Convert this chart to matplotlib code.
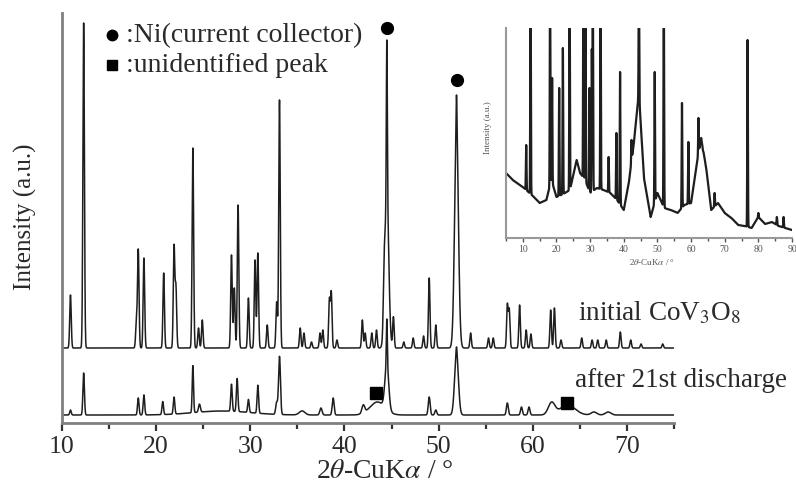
import numpy as np
import matplotlib
matplotlib.use("Agg")
import matplotlib.pyplot as plt
from matplotlib.ticker import MultipleLocator

plt.rcParams['font.family'] = ['Liberation Serif', 'DejaVu Serif']
plt.rcParams['mathtext.fontset'] = 'stix'

# ---------------- data ----------------
# initial CoV3O8 pattern: peak positions (2theta), heights above baseline, widths
init_pos = [10.9, 12.3, 17.9, 18.1, 18.7, 20.8, 21.9, 22.1, 23.9, 24.5, 24.9,
            28.0, 28.3, 28.7, 29.8, 30.5, 30.8, 31.8, 32.8, 33.1, 35.3, 35.7,
            36.5, 37.4, 37.7, 38.4, 38.6, 39.2, 41.9, 42.2, 42.9, 43.4, 44.2,
            44.5, 44.5, 45.2, 46.3, 47.3, 48.4, 49.0, 49.7, 51.9, 51.9, 53.4,
            55.3, 55.8, 57.3, 57.5, 58.6, 59.3, 59.8, 61.9, 62.3, 63.0, 65.2,
            66.3, 66.9, 67.8, 69.3, 70.4, 71.5, 73.8]
init_h = [53, 325, 25, 98, 90, 75, 101, 60, 200, 20, 28,
          93, 60, 143, 50, 88, 95, 23, 46, 248, 20, 15,
          6, 15, 18, 48, 55, 8, 28, 15, 15, 18, 40,
          156, 152, 31, 6, 10, 12, 70, 23, 221, 32, 15,
          10, 10, 43, 38, 43, 18, 14, 38, 40, 8, 10,
          8, 8, 8, 16, 8, 4, 4]
init_w = [0.08] * 33 + [0.2, 0.05] + [0.08] * 6 + [0.2, 0.05] + [0.08] * 19
init_offset = 75

# after 21st discharge pattern
after_pos = [10.9, 12.3, 18.1, 18.7, 20.7, 21.9, 23.9, 24.6, 28.0, 28.6, 29.8,
             30.8, 32.8, 33.1, 35.5, 37.5, 38.8, 42.0, 43.5, 44.5, 44.5, 49.0,
             49.7, 51.9, 51.9, 57.3, 58.8, 59.6, 62.0, 63.7, 66.5, 68.0, 27.0]
after_h = [5, 42, 17, 20, 13, 17, 47, 8, 27, 33, 13,
           28, 12, 58, 4, 7, 17, 8, 13, 45, 45, 18,
           5, 62, 6, 12, 8, 8, 12, 10, 3, 3, 4]
after_w = [0.08, 0.08, 0.08, 0.08, 0.08, 0.08, 0.07, 0.1, 0.08, 0.08, 0.08,
           0.08, 0.1, 0.1, 0.3, 0.12, 0.1, 0.15, 0.8, 0.2, 0.05, 0.1,
           0.1, 0.2, 0.05, 0.1, 0.1, 0.1, 0.35, 0.8, 0.3, 0.3, 3.0]
after_offset = 8

# inset (extended scan): background and peak tops
ins_bg_x = [5, 7, 10, 13, 15, 17, 18.5, 20, 22, 24, 26, 27, 28.5, 30, 32, 34, 36,
            38, 40, 41.5, 43, 44.5, 46, 48, 50, 52, 54, 56, 58, 60, 61.5, 63,
            64.5, 66, 68, 70, 72, 74, 76, 78, 80, 82, 84, 86, 88, 90]
ins_bg_y = [65, 58, 51, 42, 35, 38, 58, 41, 44, 48, 78, 65, 58, 45, 50, 48, 45,
            38, 28, 55, 95, 145, 60, 21, 45, 30, 28, 25, 33, 35, 70, 100,
            70, 28, 35, 25, 20, 13, 12, 10, 21, 14, 16, 12, 10, 8]
ins_pos = [11.0, 12.3, 18.1, 18.7, 20.8, 21.9, 23.9, 28.0, 28.6, 29.8, 30.5,
           30.8, 33.1, 35.5, 37.8, 38.9, 42.3, 44.5, 49.2, 51.9, 57.3, 59.2,
           62.2, 63.5, 67.0, 76.8, 80.0, 85.5, 87.5]
ins_top = [93, 260, 260, 160, 150, 190, 260, 260, 260, 150, 188,
           260, 260, 81, 105, 166, 98, 260, 166, 260, 135, 96,
           120, 88, 45, 198, 25, 21, 21]

main_ticks = [10, 20, 30, 40, 50, 60, 70]
inset_ticks = [10, 20, 30, 40, 50, 60, 70, 80, 90]

# ---------------- build profiles ----------------
def profile(x, pos, h, w):
    y = np.zeros_like(x)
    for p, a, s in zip(pos, h, w):
        y += a * np.exp(-0.5 * ((x - p) / s) ** 2)
    return y

x = np.arange(10.0, 75.0, 0.01)
y_init = init_offset + profile(x, init_pos, init_h, init_w)
y_after = after_offset + profile(x, after_pos, after_h, after_w)

xi = np.arange(5.0, 90.0, 0.02)
bg = np.interp(xi, ins_bg_x, ins_bg_y)
ins_h = [t - np.interp(p, ins_bg_x, ins_bg_y) for p, t in zip(ins_pos, ins_top)]
y_ins = bg + profile(xi, ins_pos, ins_h, [0.09] * len(ins_pos))

# ---------------- figure ----------------
W, H = 796, 486
fig = plt.figure(figsize=(W / 100, H / 100), dpi=100)
gray = '#808080'
ink = '#1e1e1e'
txt = '#2a2a2a'
FS = 19.5

ax = fig.add_axes([62 / W, (H - 423) / H, (674 - 62) / W, 410 / H])
ax.plot(x, y_init, color=ink, lw=1.1)
ax.plot(x, y_after, color=ink, lw=1.1)
ax.set_xlim(10, 75)
ax.set_ylim(0, 410)
for s in ['top', 'right']:
    ax.spines[s].set_visible(False)
for s in ['left', 'bottom']:
    ax.spines[s].set_color(gray)
    ax.spines[s].set_linewidth(2.0)
ax.set_yticks([])
ax.set_xticks(main_ticks)
ax.xaxis.set_minor_locator(MultipleLocator(5))
ax.tick_params(axis='x', which='major', direction='out', length=6, width=1.6,
               color='#333333', labelsize=18.5, labelcolor=txt, pad=3)
ax.tick_params(axis='x', which='minor', direction='out', length=4, width=1.6,
               color='#333333')

# markers
ax.plot([44.5], [395], 'o', color='black', ms=8.5)
ax.plot([51.9], [343], 'o', color='black', ms=8.5)
ax.plot([43.3], [30], 's', color='black', ms=8.5)
ax.plot([63.6], [20], 's', color='black', ms=8.5)

# legend-like annotations
ax.plot([0.082], [0.946], 'o', color='black', ms=7.5, transform=ax.transAxes, clip_on=False)
ax.plot([0.082], [0.873], 's', color='black', ms=7, transform=ax.transAxes, clip_on=False)
ax.text(0.105, 0.946, ':Ni(current collector)', transform=ax.transAxes,
        fontsize=FS + 0.5, color=txt, va='center', ha='left')
ax.text(0.105, 0.873, ':unidentified peak', transform=ax.transAxes,
        fontsize=FS + 0.5, color=txt, va='center', ha='left')

fig.text(578 / W, 1 - 313 / H, 'initial CoV$_3$O$_8$', fontsize=FS, color=txt,
         va='center', ha='left')
fig.text(575 / W, 1 - 380 / H, 'after 21st discharge', fontsize=FS, color=txt,
         va='center', ha='left')

fig.text(385 / W, 1 - 471 / H, '2$\\theta$-CuK$\\alpha$ / °', fontsize=20, color=txt,
         va='center', ha='center')
fig.text(25 / W, 1 - 217 / H, 'Intensity (a.u.)', fontsize=18, color=txt,
         va='center', ha='center', rotation=90)

# inset
axi = fig.add_axes([506 / W, (H - 238) / H, (792 - 506) / W, 210 / H])
axi.plot(xi, y_ins, color=ink, lw=1.6)
axi.set_xlim(5, 90)
axi.set_ylim(0, 210)
for s in ['top', 'right']:
    axi.spines[s].set_visible(False)
for s in ['left', 'bottom']:
    axi.spines[s].set_color('#999999')
    axi.spines[s].set_linewidth(1.5)
axi.set_yticks([])
axi.set_xticks(inset_ticks)
axi.xaxis.set_minor_locator(MultipleLocator(5))
axi.tick_params(axis='x', which='major', direction='out', length=3, width=1.0,
                color='#555555', labelsize=7, labelcolor='#555555', pad=2)
axi.tick_params(axis='x', which='minor', direction='out', length=2, width=1.0,
                color='#555555')
fig.text(652 / W, 1 - 262 / H, '2$\\theta$-CuK$\\alpha$ / °', fontsize=6.5,
         color='#555555', va='center', ha='center')
fig.text(488 / W, 1 - 128 / H, 'Intensity (a.u.)', fontsize=6.5, color='#555555',
         va='center', ha='center', rotation=90)

fig.savefig('out.png', dpi=100)
